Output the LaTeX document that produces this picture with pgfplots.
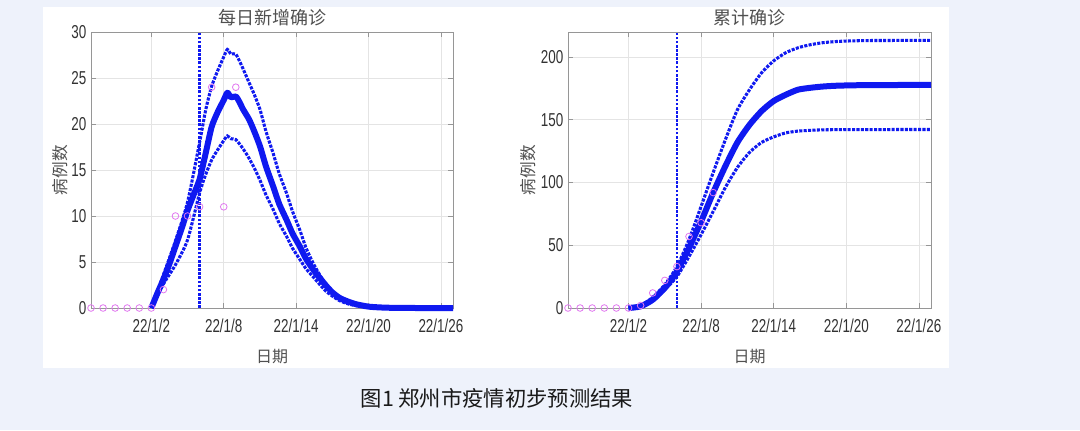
\documentclass[border=0pt]{standalone}
\usepackage{pgfplots}
\pgfplotsset{compat=1.18}
\usepackage{fontspec}
\setmainfont{Liberation Sans}
\newfontfamily\cjk{Noto Sans CJK SC}
\definecolor{bgc}{RGB}{238,242,251}
\definecolor{mblue}{RGB}{15,25,240}
\definecolor{mpink}{RGB}{225,120,240}
\definecolor{axgray}{RGB}{150,150,150}
\definecolor{gridgray}{RGB}{228,228,228}
\definecolor{tickcol}{RGB}{50,50,50}
\definecolor{titlegray}{RGB}{80,80,80}
\newcommand{\sx}[1]{\scalebox{0.72}[1]{#1}}
\pgfplotsset{
  mystyle/.style={
    scale only axis, height=207pt,
    xmin=-5, xmax=25,
    xtick={0,6,12,18,24},
    xticklabels={\sx{22/1/2},\sx{22/1/8},\sx{22/1/14},\sx{22/1/20},\sx{22/1/26}},
    grid=major, major grid style={gridgray, line width=0.6pt},
    axis line style={axgray, line width=0.7pt},
    tick style={axgray, line width=0.6pt},
    major tick length=4pt,
    tick align=inside,
    /pgf/number format/assume math mode=true,
    ticklabel style={font=\fontsize{14}{14}\selectfont, text=tickcol},
    yticklabel={\sx{\pgfmathprintnumber{\tick}}},
    xticklabel style={yshift=-5pt},
    title style={font=\cjk\fontsize{13.5}{13.5}\selectfont, text=titlegray, at={(0.5,1.0507)}, anchor=center, yshift=-6pt},
    xlabel style={font=\cjk\fontsize{12}{12}\selectfont, text=titlegray, at={(axis description cs:0.5,-0.1775)}, anchor=center},
    ylabel style={font=\cjk\fontsize{12.5}{12.5}\selectfont, text=titlegray, anchor=center},
    clip=false,
  },
  mainline/.style={mblue, line width=4.5pt, line join=round, smooth, tension=0.4, no marks},
  dotline/.style={mblue, line width=2.3pt, dash pattern=on 2.3pt off 1.0pt, smooth, tension=0.4, no marks},
  vline/.style={mblue, line width=2pt, dash pattern=on 2pt off 1.1pt, no marks},
  obs/.style={only marks, mark=o, mark size=2.5pt, mpink, mark options={line width=0.6pt}},
}
\begin{document}
\begin{tikzpicture}
\fill[bgc] (0pt,0pt) rectangle (810pt,322.5pt);
\fill[white] (32.25pt,46.5pt) rectangle (711.75pt,317.25pt);

\begin{axis}[mystyle, at={(68.25pt,91.5pt)}, anchor=south west, width=271.5pt,
  ymin=0, ymax=30, ytick={0,5,...,30},
  title={每日新增确诊}, xlabel={日期}, ylabel={病例数},
  ylabel style={at={(axis description cs:-0.0856,0.5)}}]
\addplot[dotline] coordinates {(0,0) (1,3.6) (2,7.3) (3,11.5) (4,18) (4.5,21.5) (5,24.1) (5.5,25.8) (6,27.3) (6.3,28.1) (6.6,27.6) (7,27.6) (7.5,26.3) (8,24.8) (8.5,23.3) (9,21.6) (9.5,19.2) (10.1,16.8) (10.6,14.6) (11.2,12.5) (11.7,10.5) (12.3,8.5) (12.8,6.6) (13.4,4.9) (14,3.5) (14.5,2.5) (15,1.7) (15.6,1.0) (16.3,0.6) (17,0.35) (18,0.15) (19,0.05) (20,0.02) (25,0)};
\addplot[dotline] coordinates {(0,0) (1,2.6) (2,4.7) (3,7.4) (4,12.5) (4.5,14.5) (5,16.1) (5.5,17.2) (6,18.2) (6.3,18.7) (6.6,18.4) (7,18.3) (7.5,17.5) (8,16.5) (8.5,15.3) (9,13.9) (9.5,12.3) (10.1,10.7) (10.6,9.2) (11.2,7.8) (11.7,6.5) (12.3,5.3) (12.8,4.3) (13.4,3.4) (14,2.5) (14.5,1.8) (15,1.3) (15.6,0.8) (16.3,0.45) (17,0.25) (18,0.1) (19,0.04) (20,0.01) (25,0)};
\addplot[mainline] coordinates {(0,0) (0.5,1.6) (1,3.1) (1.5,4.8) (2,6.7) (2.5,8.6) (3,10.6) (3.5,12.3) (4,14) (4.5,16.8) (5,19.7) (5.5,21.3) (6,22.6) (6.3,23.4) (6.6,22.9) (7,23.0) (7.3,22.4) (7.6,21.6) (8.1,20.5) (8.5,19.3) (9,17.6) (9.5,15.4) (10.1,13.2) (10.6,11.3) (11.2,9.6) (11.7,8.1) (12.3,6.7) (12.8,5.4) (13.4,4.2) (14,3.2) (14.5,2.4) (15,1.7) (15.6,1.1) (16.3,0.7) (17,0.4) (18,0.15) (19,0.06) (20,0.02) (22,0) (25,0)};
\addplot[vline] coordinates {(4,0) (4,30)};
\addplot[obs] coordinates {(-5,0) (-4,0) (-3,0) (-2,0) (-1,0) (0,0) (1,2) (2,10) (3,10) (4,11) (5,24) (6,11) (7,24)};
\end{axis}

\begin{axis}[mystyle, at={(426pt,91.5pt)}, anchor=south west, width=272.25pt,
  ymin=0, ymax=220, ytick={0,50,...,200},
  title={累计确诊}, xlabel={日期}, ylabel={病例数},
  ylabel style={at={(axis description cs:-0.110,0.5)}}]
\addplot[dotline] coordinates {(0,0) (1,2) (2,8.5) (3,18.6) (4,33) (5,54.5) (6,81) (7,108) (8,134) (9,158) (10,174) (11,187.5) (12,197) (13,203.5) (14,207.4) (15,209.8) (16,211.4) (17,212.3) (18,212.8) (20,213.2) (25,213.3)};
\addplot[dotline] coordinates {(0,0) (1,1) (2,5.5) (3,14.6) (4,25) (5,41) (6,58.5) (7,77) (8,96) (9,112) (10,124) (11,132) (12,136.4) (13,139.6) (14,141) (15,141.6) (16,142) (18,142.2) (25,142.3)};
\addplot[mainline] coordinates {(0,0) (1,1.3) (2,6.6) (3,16) (4,29) (5,48) (6,69) (7,92) (8,113) (9,132) (10,146) (11,157) (12,165) (13,170) (14,174) (15,175.5) (16,176.5) (17,177.1) (18,177.4) (20,177.7) (25,177.8)};
\addplot[vline] coordinates {(4,0) (4,220)};
\addplot[obs] coordinates {(-5,0) (-4,0) (-3,0) (-2,0) (-1,0) (0,0) (1,2) (2,12) (3,22) (4,33) (5,57) (6,68) (7,92)};
\end{axis}

\node[font=\cjk\fontsize{16}{16}\selectfont, text={rgb,255:red,25;green,25;blue,25}] at (372.75pt,24pt) {图1 郑州市疫情初步预测结果};
\end{tikzpicture}
\end{document}
